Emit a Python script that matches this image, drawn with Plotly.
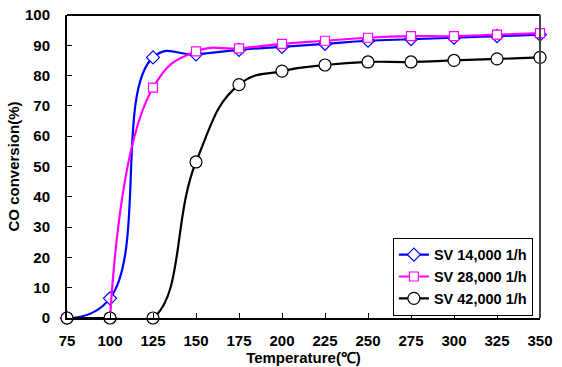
import plotly.graph_objects as go

temps = [75, 100, 125, 150, 175, 200, 225, 250, 275, 300, 325, 350]
sv14 = [0, 6.5, 86, 87, 88.5, 89.5, 90.5, 91.5, 92, 92.5, 93, 93.5]
sv28 = [0, 0, 76, 88, 89, 90.5, 91.5, 92.5, 93, 93, 93.5, 94]
sv42 = [0, 0, 0, 51.5, 77, 81.5, 83.5, 84.5, 84.5, 85, 85.5, 86]
names = ["SV 14,000 1/h", "SV 28,000 1/h", "SV 42,000 1/h"]

FONT = "Arial, Liberation Sans, sans-serif"
SM = 1.3

fig = go.Figure()
fig.add_trace(go.Scatter(x=temps, y=sv14, name=names[0], mode="lines+markers",
                         line=dict(color="#0000ff", width=2.2, shape="spline", smoothing=SM),
                         marker=dict(symbol="diamond", size=10, color="white",
                                     line=dict(color="#0000ff", width=1.2)),
                         cliponaxis=False))
fig.add_trace(go.Scatter(x=temps[1:], y=sv28[1:], name=names[1], mode="lines+markers",
                         line=dict(color="#ff00ff", width=2.2, shape="spline", smoothing=SM),
                         marker=dict(symbol="square", size=9, color="white",
                                     line=dict(color="#ff00ff", width=1.2)),
                         cliponaxis=False))
fig.add_trace(go.Scatter(x=temps, y=sv42, name=names[2], mode="lines+markers",
                         line=dict(color="black", width=2.2, shape="spline", smoothing=SM),
                         marker=dict(symbol="circle", size=12, color="white",
                                     line=dict(color="black", width=1.2)),
                         cliponaxis=False))

fig.update_layout(
    width=562, height=367,
    margin=dict(l=67, r=22, t=15, b=49),
    paper_bgcolor="white", plot_bgcolor="white",
    font=dict(family=FONT, size=15, color="black"),
    showlegend=True,
    legend=dict(x=0.985, y=0.265, xanchor="right", yanchor="top",
                bgcolor="white", bordercolor="black", borderwidth=1,
                font=dict(family=FONT, size=14.5, color="black", weight="bold"),
                itemwidth=30, tracegroupgap=0),
    xaxis=dict(range=[75, 350], tickvals=temps, ticks="inside", ticklen=5,
               tickcolor="black", showline=True, linecolor="black", linewidth=2,
               mirror=False, showgrid=False, zeroline=False, ticklabelstandoff=8,
               automargin=False,
               tickfont=dict(family=FONT, size=15, color="black", weight="bold"),
               title=dict(text="Temperature(℃)", standoff=4,
                          font=dict(family=FONT, size=15, color="black", weight="bold"))),
    yaxis=dict(range=[0, 100], dtick=10, ticks="inside", ticklen=5,
               tickcolor="black", showline=True, linecolor="black", linewidth=2,
               showgrid=False, zeroline=False, ticklabelstandoff=12,
               automargin=False,
               tickfont=dict(family=FONT, size=15, color="black", weight="bold"),
               title=dict(text="CO conversion(%)", standoff=2,
                          font=dict(family=FONT, size=15, color="black", weight="bold"))),
)
fig.add_shape(type="line", xref="paper", yref="paper", x0=0, x1=1, y0=1, y1=1,
              line=dict(color="black", width=2))
fig.add_shape(type="line", xref="paper", yref="paper", x0=1, x1=1, y0=0, y1=1,
              line=dict(color="#444444", width=2))

fig.write_html("out.html")
